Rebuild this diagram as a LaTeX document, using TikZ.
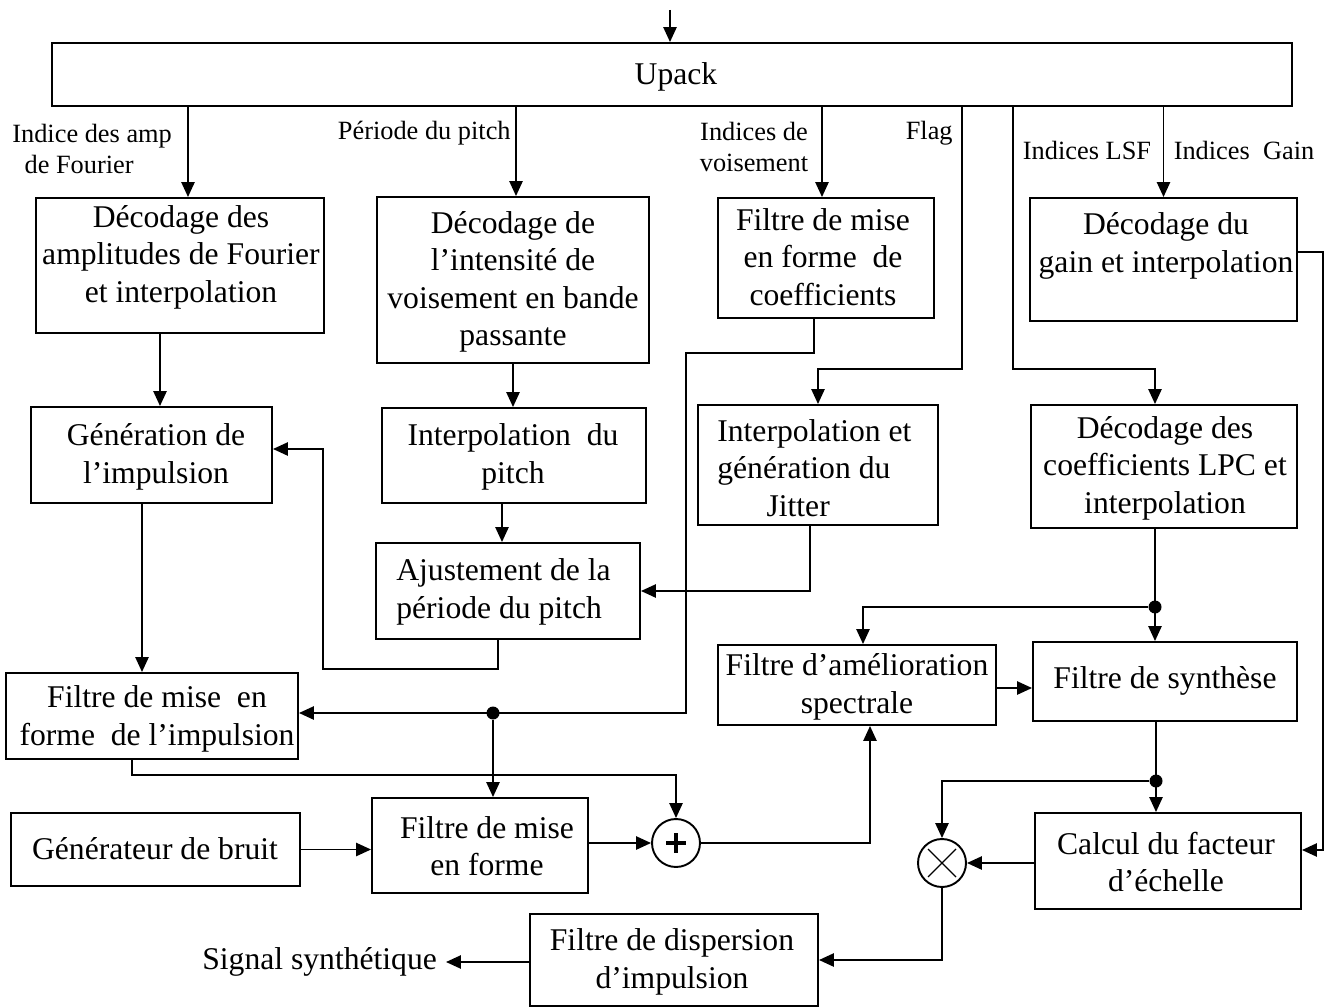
\documentclass[tikz,border=0pt]{standalone}
\usepackage{fontspec}
\setmainfont{Liberation Serif}
\usetikzlibrary{arrows.meta,fit}
\begin{document}
\begin{tikzpicture}[x=0.02cm,y=-0.02cm,
  box/.style={draw, line width=1.1pt, inner sep=0pt},
  txt/.style={font=\fontsize{18}{21.3}\selectfont, align=center, inner sep=0pt},
  lbl/.style={font=\fontsize{15}{17.5}\selectfont, align=center, inner sep=0pt},
  wire/.style={line width=1.1pt},
  arr/.style={line width=1.1pt, -{Triangle[length=8.5pt,width=7.5pt]}},
  dot/.style={circle, fill, inner sep=0pt, minimum size=0.26cm},
  sum/.style={circle, draw, line width=1.1pt, inner sep=0pt, minimum size=0.96cm}]
\useasboundingbox (0,0) rectangle (1332,1007);

% ---------- blocks ----------
\node[box, fit={(52,43)(1292,106)}] (upack) {};
\node[txt] (upack-t) at (676,77) {Upack};

\node[box, fit={(36,198)(324,333)}] (fourier) {};
\node[txt] (fourier-t) at (181,257) {Décodage des\\amplitudes de Fourier\\et interpolation};

\node[box, fit={(377,197)(649,363)}] (intens) {};
\node[txt] (intens-t) at (513,282) {Décodage de\\l’intensité de\\voisement en bande\\passante};

\node[box, fit={(718,198)(934,318)}] (coeff) {};
\node[txt] (coeff-t) at (823,257) {Filtre de mise\\en forme\ \ de\\coefficients};

\node[box, fit={(1030,198)(1297,321)}] (gain) {};
\node[txt] (gain-t) at (1166,246) {Décodage du\\gain et interpolation};

\node[box, fit={(31,407)(272,503)}] (gener) {};
\node[txt] (gener-t) at (156,457) {Génération de\\l’impulsion};

\node[box, fit={(382,408)(646,503)}] (interp) {};
\node[txt] (interp-t) at (513,457) {Interpolation\ \ du\\pitch};

\node[box, fit={(698,405)(938,525)}] (jitter) {};
\node[txt, align=left, anchor=west] (jitter-t) at (717,468) {Interpolation et\\génération du\\\hspace{28pt}Jitter};

\node[box, fit={(1031,405)(1297,528)}] (lpc) {};
\node[txt] (lpc-t) at (1165,468) {Décodage des\\coefficients LPC et\\interpolation};

\node[box, fit={(376,543)(640,639)}] (ajust) {};
\node[txt, align=left, anchor=west] (ajust-t) at (396,592) {Ajustement de la\\période du pitch};

\node[box, fit={(6,673)(298,759)}] (filtimp) {};
\node[txt] (filtimp-t) at (157,719) {Filtre de mise\ \ en\\forme\ \ de l’impulsion};

\node[box, fit={(718,645)(996,725)}] (amelio) {};
\node[txt] (amelio-t) at (857,687) {Filtre d’amélioration\\spectrale};

\node[box, fit={(1033,642)(1297,721)}] (synth) {};
\node[txt] (synth-t) at (1165,681) {Filtre de synthèse};

\node[box, fit={(11,813)(300,886)}] (bruit) {};
\node[txt] (bruit-t) at (155,849) {Générateur de bruit};

\node[box, fit={(372,798)(588,893)}] (mise) {};
\node[txt] (mise-t) at (487,846) {Filtre de mise\\en forme};

\node[box, fit={(1035,813)(1301,909)}] (calcul) {};
\node[txt] (calcul-t) at (1166,862) {Calcul du facteur\\d’échelle};

\node[box, fit={(530,914)(818,1006)}] (disp) {};
\node[txt] (disp-t) at (672,962) {Filtre de dispersion\\d’impulsion};

\node[txt, anchor=east, inner sep=5pt] (signal) at (446,962) {Signal synthétique};

% adder and multiplier
\node[sum] (plus) at (676,843) {};
\draw[line width=2.2pt] (plus.center) ++(-10,0) -- ++(20,0);
\draw[line width=2.2pt] (plus.center) ++(0,-10) -- ++(0,20);
\node[sum] (times) at (942,863) {};
\draw[line width=0.7pt] (times.center) ++(-14,-14) -- ++(28,28);
\draw[line width=0.7pt] (times.center) ++(-14,14) -- ++(28,-28);

% branch points
\node[dot] (d1) at (493,713) {};
\node[dot] (d2) at (1155,607) {};
\node[dot] (d3) at (1156,781) {};

% ---------- stream labels ----------
\node[lbl, align=left, anchor=west] (l-amp) at (12,149) {Indice des amp\\\hspace{7pt}de Fourier};
\node[lbl, anchor=east] (l-pitch) at (511,133) {Période du pitch};
\node[lbl] (l-voix) at (754,147) {Indices de\\voisement};
\node[lbl, anchor=east] (l-flag) at (953,133) {Flag};
\node[lbl] (l-lsf) at (1087,150) {Indices LSF};
\node[lbl] (l-gain) at (1244,150) {Indices\ \ Gain};

% ---------- routing points ----------
\coordinate (in) at (670,10);
\coordinate (xF) at (188,0);
\coordinate (xP) at (516,0);
\coordinate (xV) at (822,0);
\coordinate (xFl) at (962,369);
\coordinate (xL) at (1013,369);
\coordinate (c8) at (160,0);
\coordinate (c10) at (502,0);
\coordinate (c11) at (810,0);
\coordinate (c12a) at (498,669);
\coordinate (c12b) at (323,449);
\coordinate (c13) at (142,0);
\coordinate (c14a) at (814,353);
\coordinate (c14b) at (686,713);
\coordinate (c16) at (132,775);
\coordinate (c19) at (870,0);
\coordinate (c20) at (0,688);
\coordinate (c22) at (863,0);
\coordinate (c26a) at (1323,252);
\coordinate (c26b) at (0,850);

% ---------- connectors ----------
\draw[arr] (in) -- (upack.north -| in);
\draw[arr] (upack.south -| xF) -- (fourier.north -| xF);
\draw[arr] (upack.south -| xP) -- (intens.north -| xP);
\draw[arr] (upack.south -| xV) -- (coeff.north -| xV);
\draw[arr] (upack.south -| xFl) -- (xFl) -| (jitter.north);
\draw[arr] (upack.south -| xL) -- (xL) -| (lpc.north -| d2);
\draw[arr] (upack.south -| gain.north) -- (gain.north);

\draw[arr] (fourier.south -| c8) -- (gener.north -| c8);
\draw[arr] (intens.south) -- (interp.north -| intens.south);
\draw[arr] (interp.south -| c10) -- (ajust.north -| c10);
\draw[arr] (jitter.south -| c11) |- (ajust.east);
\draw[arr] (ajust.south -| c12a) -- (c12a) -| (c12b) -- (gener.east |- c12b);
\draw[arr] (gener.south -| c13) -- (filtimp.north -| c13);
\draw[arr] (coeff.south -| c14a) -- (c14a) -| (c14b) -- (filtimp.east |- c14b);
\draw[arr] (d1) -- (mise.north -| d1);
\draw[arr] (filtimp.south -| c16) -- (c16) -| (plus.north);
\draw[arr] (bruit.east) -- (mise.west |- bruit.east);
\draw[arr] (plus.west -| mise.east) -- (plus.west);
\draw[arr] (plus.east) -| (amelio.south -| c19);
\draw[arr] (amelio.east |- c20) -- (synth.west |- c20);
\draw[arr] (lpc.south -| d2) -- (synth.north -| d2);
\draw[arr] (d2) -| (amelio.north -| c22);
\draw[arr] (synth.south -| d3) -- (calcul.north -| d3);
\draw[arr] (d3) -| (times.north);
\draw[arr] (calcul.west |- times.east) -- (times.east);
\draw[arr] (gain.east |- c26a) -- (c26a) |- (calcul.east |- c26b);
\draw[arr] (times.south) |- (disp.east);
\draw[arr] (disp.west |- signal.east) -- (signal.east);
\end{tikzpicture}
\end{document}
